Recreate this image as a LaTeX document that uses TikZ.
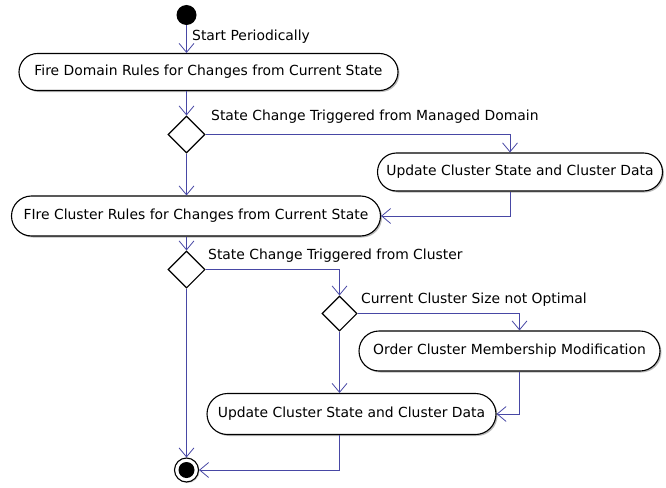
\documentclass[tikz,border=0pt]{standalone}
\usepackage{fontspec}
\setmainfont{DejaVu Sans}
\usepackage{tikz}
\usetikzlibrary{arrows.meta,shapes.misc,shapes.geometric,shadows}

\definecolor{flowblue}{RGB}{72,72,165}

\begin{document}
\begin{tikzpicture}[x=1pt, y=-1pt, font=\fontsize{13.9}{15}\selectfont,
        act/.style={rounded rectangle, draw, line width=1.1pt, fill=white, inner sep=2pt,
            drop shadow={shadow xshift=1.5pt, shadow yshift=-1.5pt, fill=black!45, opacity=0.6}},
        dec/.style={diamond, draw, line width=1.1pt, fill=white, inner sep=0pt, minimum size=#1},
        flow/.style={draw=flowblue, line width=0.8pt, -{Straight Barb[length=9pt, width=15pt]}},
        lbl/.style={anchor=west, inner sep=0pt}]
        \useasboundingbox (0,0) rectangle (666,487);

        \node[circle, fill, inner sep=0pt, minimum size=20pt] (0) at (186.5, 15) {};
        \node[act, minimum width=383pt, minimum height=37pt] (1) at (208.5, 72) {Fire Domain Rules for Changes from Current State};
        \node[dec=37pt] (2) at (186.5, 134.5) {};
        \node[act, minimum width=289pt, minimum height=38pt] (3) at (520, 172) {Update Cluster State and Cluster Data};
        \node[act, minimum width=373pt, minimum height=40pt] (4) at (196, 216) {FIre Cluster Rules for Changes from Current State};
        \node[dec=37pt] (5) at (186.5, 269.5) {};
        \node[dec=35pt] (6) at (339.5, 313.5) {};
        \node[act, minimum width=305pt, minimum height=40pt] (7) at (509.5, 351) {Order Cluster Membership Modification};
        \node[act, minimum width=293pt, minimum height=41pt] (8) at (351.5, 414) {Update Cluster State and Cluster Data};
        \node[circle, draw, line width=1.1pt, fill=white, inner sep=0pt, minimum size=24pt,
            drop shadow={shadow xshift=1pt, shadow yshift=-1pt, fill=black!40, opacity=0.5}] (9) at (186.5, 470) {};
        \node[circle, fill, inner sep=0pt, minimum size=16pt] (9i) at (9) {};

        \node[lbl] (l0) at (192, 37) {Start Periodically};
        \node[lbl] (l1) at (211, 117) {State Change Triggered from Managed Domain};
        \node[lbl] (l2) at (208, 256) {State Change Triggered from Cluster};
        \node[lbl] (l3) at (361, 300) {Current Cluster Size not Optimal};

        \draw[flow] (0) -- (0 |- 1.north);
        \draw[flow] (2 |- 1.south) -- (2.north);
        \draw[flow] (2.east) -| ([xshift=-10pt]3.north);
        \draw[flow] ([xshift=-10pt]3.south) |- (4.east);
        \draw[flow] (2.south) -- (2 |- 4.north);
        \draw[flow] (5 |- 4.south) -- (5.north);
        \draw[flow] (5.east) -| (6.north);
        \draw[flow] (6.east) -| ([xshift=10pt]7.north);
        \draw[flow] ([xshift=10pt]7.south) |- (8.east);
        \draw[flow] (6.south) -- (6 |- 8.north);
        \draw[flow] (5.south) -- (9.north);
        \draw[flow] (6 |- 8.south) |- (9.east);
    \end{tikzpicture}
\end{document}
